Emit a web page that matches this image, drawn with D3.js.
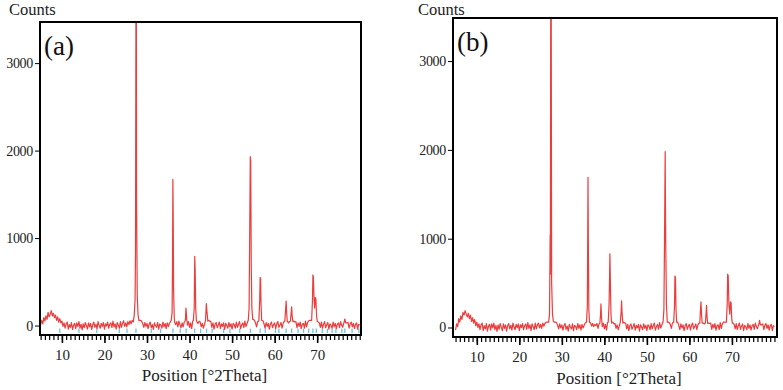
<!DOCTYPE html>
<html>
<head>
<meta charset="utf-8">
<script src="https://cdn.jsdelivr.net/npm/d3@7"></script>
<style>
  body { margin: 0; background: #fff; }
  svg { display: block; }
  svg text { font-family: "Liberation Serif", "DejaVu Serif", serif; }
</style>
</head>
<body>
<svg id="chart" width="783" height="390"></svg>
<script>
// baseline counts, one value every 0.25 deg from 5 deg (each row = 5 deg)
const baseStep = 0.25;
const baseA = [
    10, 60, 20, 90, 50, 110, 70, 150, 100, 130, 170, 110, 140, 90, 120, 60, 100, 40, 80, 30,
    50, -10, 30, -30, 20, 40, -40, 10, -20, 35, -45, 5, 25, -35, 30, -10, 45, -30, 15, -50,
    20, -25, 35, 0, -40, 30, -15, 25, -45, 10, 40, -20, 15, -35, 45, 0, -30, 25, -10, 35,
    -40, 20, -5, 40, -30, 15, 30, -25, 50, -15, 20, -40, 35, 5, -30, 45, -20, 25, 55, -10,
    30, -15, 45, 10, 55, 20, 60, 40, 60, 60, 60, 60, 60, 60, 60, 50, 20, -20, 35, -10,
    25, -35, 15, 40, -25, 10, -45, 30, 0, -20, 35, -40, 20, 5, -30, 40, -15, 25, -35, 30,
    -10, 20, 45, 60, 60, 60, 40, 10, 45, -15, 50, 10, -25, 30, -15, 40, -35, 20, 5, 45,
    -20, 30, -35, 50, 60, 60, 60, 40, 25, 50, 40, -15, 25, -30, 10, 35, 55, 60, 60, 50,
    45, -20, 30, -40, 15, 35, -25, 5, 40, -35, 20, -10, 30, -45, 25, 0, -30, 35, -15, 20,
    -40, 25, 10, -30, 40, -20, 15, 45, -35, 5, 30, -25, 50, -10, 20, 55, 60, 60, 60, 60,
    70, 60, 30, -15, 45, 50, 60, 60, 60, 55, 20, -30, 35, -10, 25, -40, 15, 40, -25, 10,
    30, -35, 20, 45, -20, 5, 35, -30, 25, 50, 50, 50, 50, 30, 45, -10, 50, 50, 50, 40,
    45, -25, 30, -10, 40, -35, 15, 25, -30, 50, -15, 35, 55, 60, 60, 60, 60, 60, 60, 60,
    50, 40, 30, -20, 40, -30, 15, 45, -25, 10, 35, -40, 20, 0, -30, 40, -15, 25, -35, 15,
    30, -25, 45, 5, -20, 30, 30, 30, 30, 35, -30, 20, 40, -15, 25, -35, 10, 30, -40, 15,
    5
];
const baseB = [
    -30, 40, 10, 100, 60, 130, 90, 170, 140, 190, 150, 120, 160, 100, 140, 70, 110, 50, 90, 20,
    60, 0, 40, -25, 30, 50, -35, 20, -15, 45, -40, 15, 35, -30, 40, -5, 50, -25, 25, -45,
    30, -20, 45, 5, -35, 40, -10, 30, -40, 20, 45, -15, 25, -30, 50, 5, -25, 35, -5, 40,
    -35, 30, 0, 45, -25, 20, 40, -20, 55, -10, 30, -35, 40, 10, -25, 50, -15, 30, 50, -5,
    35, -10, 50, 15, 45, 60, 60, 60, 60, 60, 60, 60, 60, 60, 60, 55, 25, -15, 40, -5,
    30, -30, 20, 45, -20, 15, -40, 35, 5, -15, 40, -35, 25, 10, -25, 45, -10, 30, -30, 35,
    -5, 25, 50, 60, 60, 60, 60, 50, 15, 45, 10, 35, 20, 45, -10, 40, 60, 25, 10, 50,
    -15, 35, -30, 55, 60, 60, 60, 60, 60, 40, 45, -10, 30, -25, 15, 40, 60, 60, 60, 50,
    50, -15, 35, -35, 20, 40, -20, 10, 45, -30, 25, -5, 35, -40, 30, 5, -25, 40, -10, 25,
    -35, 30, 15, -25, 45, -15, 20, 50, -30, 10, 35, -20, 55, -5, 25, 60, 60, 60, 60, 60,
    60, 55, 35, -10, 50, 60, 60, 60, 60, 60, 25, -25, 40, -5, 30, -35, 20, 45, -20, 15,
    35, -30, 25, 50, -15, 10, 40, -25, 30, 50, 50, 50, 50, 50, 40, 45, 50, 50, 50, 45,
    50, -20, 35, -5, 45, -30, 20, 30, -25, 55, -10, 40, 60, 60, 60, 60, 60, 60, 60, 60,
    60, 50, 35, -15, 45, -25, 20, 50, -20, 15, 40, -35, 25, 5, -25, 45, -10, 30, -30, 20,
    35, -20, 50, 10, -15, 30, 30, 30, 30, 40, -25, 25, 45, -10, 30, -30, 15, 35, -35, 20,
    10
];

// peaks as [2theta, counts]
const peaksA = [
    [[26.8, 50], [27.0, 120], [27.2, 300], [27.3, 850], [27.4, 3600], [27.5, 3600], [27.55, 1470], [27.7, 350], [27.9, 120], [28.1, 60]],
    [[35.7, 60], [35.9, 150], [36.0, 700], [36.08, 1670], [36.15, 1300], [36.25, 400], [36.4, 100]],
    [[38.95, 50], [39.05, 80], [39.15, 200], [39.25, 140], [39.35, 60], [39.45, 40]],
    [[40.9, 60], [41.1, 200], [41.22, 790], [41.32, 620], [41.45, 200], [41.6, 60]],
    [[43.75, 60], [43.95, 250], [44.1, 150], [44.3, 50]],
    [[53.8, 60], [54.0, 200], [54.15, 1100], [54.28, 1930], [54.38, 1880], [54.5, 700], [54.65, 200], [54.85, 70]],
    [[56.3, 60], [56.5, 300], [56.6, 550], [56.7, 540], [56.8, 250], [56.95, 60]],
    [[62.4, 50], [62.6, 200], [62.7, 280], [62.8, 180], [62.95, 50]],
    [[63.7, 50], [63.9, 150], [64.0, 215], [64.1, 120], [64.3, 45]],
    [[68.7, 60], [68.9, 300], [69.0, 580], [69.1, 560], [69.25, 330], [69.4, 200], [69.55, 320], [69.7, 300], [69.85, 120], [70.0, 50]],
    [[76.3, 30], [76.5, 75], [76.7, 30]]
];
const peaksB = [
    [[26.9, 60], [27.1, 150], [27.25, 1040], [27.3, 600], [27.38, 3600], [27.5, 3600], [27.6, 500], [27.8, 150], [28.0, 70]],
    [[35.8, 60], [36.0, 250], [36.08, 1020], [36.15, 1690], [36.22, 1000], [36.35, 200], [36.5, 60]],
    [[38.95, 50], [39.1, 150], [39.2, 265], [39.3, 140], [39.45, 40]],
    [[40.9, 60], [41.1, 250], [41.22, 560], [41.3, 830], [41.4, 550], [41.55, 150], [41.7, 50]],
    [[43.75, 60], [43.95, 180], [44.05, 300], [44.15, 170], [44.35, 50]],
    [[53.8, 60], [54.0, 200], [54.15, 1000], [54.3, 1980], [54.42, 1000], [54.6, 250], [54.8, 60]],
    [[56.3, 60], [56.5, 250], [56.6, 580], [56.72, 560], [56.85, 200], [57.0, 60]],
    [[62.45, 50], [62.6, 200], [62.72, 290], [62.85, 150], [63.0, 50]],
    [[63.75, 50], [63.9, 150], [64.02, 250], [64.15, 120], [64.3, 45]],
    [[68.7, 60], [68.9, 280], [69.0, 600], [69.12, 580], [69.3, 250], [69.5, 150], [69.65, 290], [69.8, 280], [69.95, 100], [70.1, 50]],
    [[76.3, 30], [76.5, 80], [76.7, 30]]
];

// reference pattern sticks shown in (a)
const refSticks = [9.5, 14, 18.2, 23.5, 25.3, 27.4, 31.0, 33.2, 36.1, 37.8, 39.2, 41.2, 42.6, 44.0,
    45.3, 48.0, 49.5, 51.8, 54.3, 56.6, 57.8, 60.2, 61.0, 62.7, 64.0, 65.5, 66.8, 68.0, 69.0, 69.8,
    71.2, 72.4, 73.5, 74.4, 75.8, 76.5, 78.2, 79.8];

const yTicks = [0, 1000, 2000, 3000];
const xMajor = [10, 20, 30, 40, 50, 60, 70];
const xMinor = d3.range(5, 81);

const red = '#ec3d3d';
const serif = '"Liberation Serif", "DejaVu Serif", serif';
const svg = d3.select('#chart');

function buildSeries(base, peaks) {
    let pts = base.map((v, i) => [5 + i * baseStep, v]);
    peaks.forEach(p => {
        const lo = p[0][0], hi = p[p.length - 1][0];
        pts = pts.filter(d => d[0] < lo || d[0] > hi);
    });
    peaks.forEach(p => { pts = pts.concat(p); });
    return pts.sort((a, b) => a[0] - b[0]);
}

function drawPanel(cfg) {
    const x = d3.scaleLinear().domain(cfg.xDomain).range([cfg.left, cfg.right]);
    const y = d3.scaleLinear().domain(cfg.yDomain).range([cfg.bottom, cfg.top]);
    const g = svg.append('g');

    g.append('clipPath').attr('id', 'clip-' + cfg.id)
        .append('rect')
        .attr('x', cfg.left).attr('y', cfg.top)
        .attr('width', cfg.right - cfg.left).attr('height', cfg.bottom - cfg.top);

    const plot = g.append('g').attr('clip-path', `url(#clip-${cfg.id})`);

    if (cfg.sticks) {
        plot.selectAll('.stick')
            .data(cfg.sticks)
            .join('line')
            .attr('class', 'stick')
            .attr('x1', d => x(d)).attr('x2', d => x(d))
            .attr('y1', y(-85)).attr('y2', y(-35))
            .attr('stroke', '#6cc3e6')
            .attr('stroke-width', 1.3);
    }

    const line = d3.line().x(d => x(d[0])).y(d => y(d[1]));
    plot.append('path')
        .datum(buildSeries(cfg.base, cfg.peaks))
        .attr('d', line)
        .attr('fill', 'none')
        .attr('stroke', red)
        .attr('stroke-width', 1.2)
        .attr('stroke-linejoin', 'round');

    // frame
    g.append('rect')
        .attr('x', cfg.left).attr('y', cfg.top)
        .attr('width', cfg.right - cfg.left).attr('height', cfg.bottom - cfg.top)
        .attr('fill', 'none')
        .attr('stroke', '#000')
        .attr('stroke-width', 2);

    const yAxis = d3.axisLeft(y).tickValues(yTicks).tickFormat(d3.format('d')).tickSize(4).tickPadding(2);
    g.append('g')
        .attr('transform', `translate(${cfg.left - 1},0)`)
        .call(yAxis)
        .call(a => a.select('.domain').remove())
        .call(a => a.selectAll('text')
            .style('font-family', serif).style('font-size', '14px')
            .attr('fill', '#222').attr('letter-spacing', '-0.3px'));

    g.append('g')
        .attr('transform', `translate(0,${cfg.bottom + 1})`)
        .call(d3.axisBottom(x).tickValues(xMinor).tickSize(4).tickFormat(''))
        .call(a => a.select('.domain').remove())
        .call(a => a.selectAll('line').attr('stroke-width', 1.2));

    g.append('g')
        .attr('transform', `translate(0,${cfg.bottom + 1})`)
        .call(d3.axisBottom(x).tickValues(xMajor).tickSize(7).tickPadding(6))
        .call(a => a.select('.domain').remove())
        .call(a => a.selectAll('line').attr('stroke-width', 1.6))
        .call(a => a.selectAll('text')
            .style('font-family', serif).style('font-size', '15px')
            .attr('fill', '#222'));

    g.append('text')
        .attr('x', cfg.countsX).attr('y', 15)
        .style('font-family', serif).style('font-size', '16.5px')
        .attr('fill', '#222')
        .text('Counts');

    g.append('text')
        .attr('x', cfg.left + 4).attr('y', cfg.top + 33)
        .style('font-family', serif).style('font-size', '27px')
        .attr('fill', '#111')
        .text(cfg.label);

    g.append('text')
        .attr('x', (cfg.left + cfg.right) / 2 + 4).attr('y', cfg.titleY)
        .attr('text-anchor', 'middle')
        .style('font-family', serif).style('font-size', '17px')
        .attr('fill', '#222')
        .text('Position [°2Theta]');
}

drawPanel({
    id: 'a', label: '(a)', base: baseA, peaks: peaksA, sticks: refSticks,
    xDomain: [4.85, 80.3], yDomain: [-108, 3470],
    left: 40, right: 361, top: 22, bottom: 335, countsX: 9, titleY: 381
});
drawPanel({
    id: 'b', label: '(b)', base: baseB, peaks: peaksB,
    xDomain: [4.4, 80.6], yDomain: [-107, 3485],
    left: 453, right: 777, top: 18, bottom: 337, countsX: 418, titleY: 384
});
</script>
</body>
</html>
